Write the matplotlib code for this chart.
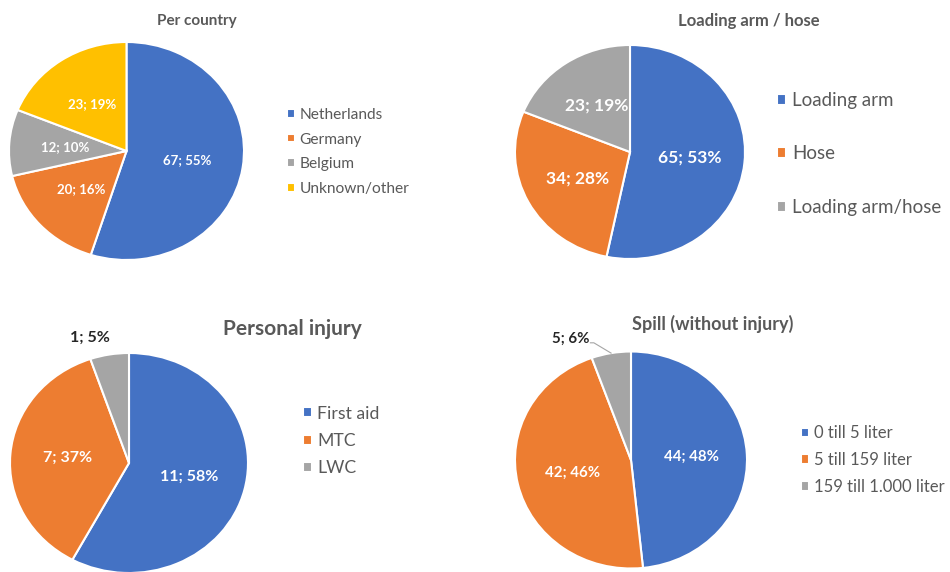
import numpy as np
import matplotlib
matplotlib.use("Agg")
import matplotlib.pyplot as plt

plt.rcParams['font.family'] = ['Lato', 'DejaVu Sans']

# data
country_labels = ['Netherlands', 'Germany', 'Belgium', 'Unknown/other']
country_counts = [67, 20, 12, 23]
country_pct = [55, 16, 10, 19]

arm_labels = ['Loading arm', 'Hose', 'Loading arm/hose']
arm_counts = [65, 34, 23]
arm_pct = [53, 28, 19]

injury_labels = ['First aid', 'MTC', 'LWC']
injury_counts = [11, 7, 1]
injury_pct = [58, 37, 5]

spill_labels = ['0 till 5 liter', '5 till 159 liter', '159 till 1.000 liter']
spill_counts = [44, 42, 5]
spill_pct = [48, 46, 6]

colors = ['#4472C4', '#ED7D31', '#A5A5A5', '#FFC000']
W, H = 950, 572
grey_txt = '#595959'

fig = plt.figure(figsize=(W / 100, H / 100), dpi=100)


def px(x, y):
    return x / W, 1 - y / H


def draw_pie(cx, cy, rx, ry, counts, pct, labels, title, title_xy, title_size,
             lab_size, leg_xy, leg_size, leg_spacing, outside=None):
    ax = fig.add_axes([(cx - rx) / W, (H - cy - ry) / H, 2 * rx / W, 2 * ry / H])
    wedges, _ = ax.pie(counts, colors=colors[:len(counts)], startangle=90,
                       counterclock=False, radius=1,
                       wedgeprops=dict(edgecolor='white', linewidth=1.5))
    ax.set_aspect('auto')
    ax.set_xlim(-1, 1)
    ax.set_ylim(-1, 1)
    for i, w in enumerate(wedges):
        txt = f'{counts[i]}; {pct[i]}%'
        mid = np.deg2rad((w.theta1 + w.theta2) / 2)
        if outside is not None and i == outside[0]:
            tx, ty, leader = outside[1], outside[2], outside[3]
            ax.text(tx, ty, txt, ha='center', va='center', fontsize=lab_size,
                    fontweight='bold', color='#262626', clip_on=False)
            if leader:
                ax.plot([tx + 0.17, tx + 0.2, np.cos(mid)], [ty - 0.04, ty - 0.04, np.sin(mid)],
                        color='#A5A5A5', lw=0.8, clip_on=False)
        else:
            ax.text(0.52 * np.cos(mid), 0.52 * np.sin(mid), txt, ha='center', va='center',
                    fontsize=lab_size, fontweight='bold', color='white')
    tx, ty = px(*title_xy)
    fig.text(tx, ty, title, ha='center', va='center', fontsize=title_size,
             fontweight='bold', color=grey_txt)
    ax.legend(wedges, labels, loc='center left', bbox_to_anchor=px(*leg_xy),
              bbox_transform=fig.transFigure, frameon=False, fontsize=leg_size,
              handlelength=0.5, handleheight=0.5, handletextpad=0.3,
              labelspacing=leg_spacing, borderpad=0, borderaxespad=0,
              labelcolor=grey_txt)
    return ax


draw_pie(126.5, 151, 117.5, 109, country_counts, country_pct, country_labels,
         'Per country', (197, 21), 11, 9.5, (287, 152), 11.2, 0.7)
draw_pie(630, 152, 115, 107, arm_counts, arm_pct, arm_labels,
         'Loading arm / hose', (749, 21), 12, 12.5, (777, 154), 13.5, 1.95)
draw_pie(129, 463, 119, 110, injury_counts, injury_pct, injury_labels,
         'Personal injury', (292, 329), 15, 11.5, (303, 441), 12.7, 0.65,
         outside=(2, -0.33, 1.14, False))
draw_pie(631, 460, 116, 108.5, spill_counts, spill_pct, spill_labels,
         'Spill (without injury)', (713, 324), 13, 10.8, (801, 460), 12, 0.65,
         outside=(2, -0.52, 1.12, True))

fig.savefig('out.png', dpi=100)
